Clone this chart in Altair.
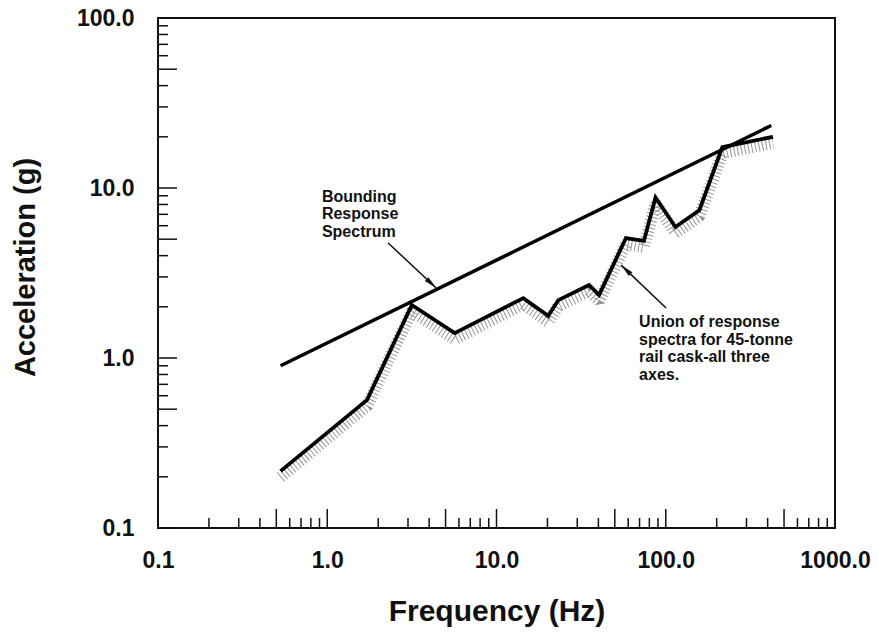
import math
import altair as alt
import pandas as pd

# ---------------- data ----------------
F_BOUND = [0.53, 420.0]
A_BOUND = [0.90, 23.3]

F_UNION = [0.53, 1.72, 3.16, 5.66, 14.4, 20.2, 23.2, 35.2, 40.4, 58.2,
           74.3, 87.0, 114.0, 158.0, 216.0, 430.0]
A_UNION = [0.216, 0.567, 2.05, 1.40, 2.25, 1.77, 2.19, 2.69, 2.35, 5.08,
           4.88, 8.8, 5.9, 7.4, 17.4, 20.0]

X_LABELS = [0.1, 1, 10, 100, 1000]
Y_LABELS = [0.1, 1, 10, 100]
MULT_SHORT = [2, 3, 4, 6, 7, 8, 9]
MULT_LONG = [1, 5]

ANNOT_TEXT = [["Bounding", "Response", "Spectrum"],
              ["Union of response", "spectra for 45-tonne", "rail cask-all three", "axes."]]
ANNOT_F = [0.93, 69.6]
ANNOT_A = [8.3, 1.52]

ARROW_TAIL_F = [2.29, 100.5]
ARROW_TAIL_A = [4.75, 1.97]
ARROW_HEAD_F = [4.40, 54.5]
ARROW_HEAD_A = [2.58, 3.52]

# ---------------- layout ----------------
W, H = 677, 510
FONT = "Liberation Sans"
XS = alt.Scale(type="log", domain=[0.1, 1000], nice=False)
YS = alt.Scale(type="log", domain=[0.1, 100], nice=False)
PPD_X, PPD_Y = W / 4.0, H / 3.0

x_axis = alt.Axis(values=X_LABELS, format=".1f", ticks=False, tickSize=0, domain=False,
                  grid=False, labelPadding=21, labelFlush=False, labelFont=FONT,
                  labelFontSize=23, labelFontWeight="bold", labelColor="#111",
                  title="Frequency (Hz)", titleFont=FONT, titleFontSize=30,
                  titleFontWeight="bold", titleColor="#111", titleY=92,
                  titleBaseline="alphabetic")
y_axis = alt.Axis(values=Y_LABELS, format=".1f", ticks=False, tickSize=0, domain=False,
                  grid=False, labelPadding=24, labelFlush=False, labelFont=FONT,
                  labelFontSize=23, labelFontWeight="bold", labelColor="#111",
                  title="Acceleration (g)", titleFont=FONT, titleFontSize=29,
                  titleFontWeight="bold", titleColor="#111", titleX=-124, titleY=249,
                  titleAngle=270, titleBaseline="alphabetic", titleAlign="center")


def X(field):
    return alt.X(field, type="quantitative", scale=XS, axis=x_axis)


def Y(field):
    return alt.Y(field, type="quantitative", scale=YS, axis=y_axis)


bound_df = pd.DataFrame({"f": F_BOUND, "a": A_BOUND})
union_df = pd.DataFrame({"f": F_UNION, "a": A_UNION})

# hatch shading below the union curve
hatch = alt.Chart(union_df).mark_line(
    color="#666", strokeWidth=12, strokeDash=[1, 2.6], yOffset=6, opacity=0.7,
    strokeJoin="bevel", strokeCap="butt"
).encode(x=X("f"), y=Y("a"))

union = alt.Chart(union_df).mark_line(color="#000", strokeWidth=3.8, strokeJoin="miter").encode(
    x=X("f"), y=Y("a"))

bound = alt.Chart(bound_df).mark_line(color="#000", strokeWidth=3.5).encode(
    x=X("f"), y=Y("a"))

# axis ticks pointing inward
xs_short = [m * 10 ** k for k in range(-1, 3) for m in MULT_SHORT]
xs_long = [m * 10 ** k for k in range(-1, 3) for m in MULT_LONG]
ys_short = [m * 10 ** k for k in range(-1, 2) for m in MULT_SHORT]
ys_long = [m * 10 ** k for k in range(-1, 2) for m in MULT_LONG]


def xticks(vals, length):
    return alt.Chart(pd.DataFrame({"v": vals})).mark_rule(color="#111", strokeWidth=1.5).encode(
        x=X("v"), y=alt.value(H), y2=alt.value(H - length))


def yticks(vals, length):
    return alt.Chart(pd.DataFrame({"v": vals})).mark_rule(color="#111", strokeWidth=1.5).encode(
        y=Y("v"), x=alt.value(0), x2=alt.value(length))


# annotations
ann_df = pd.DataFrame({"t": ANNOT_TEXT, "f": ANNOT_F, "a": ANNOT_A})
ann = alt.Chart(ann_df).mark_text(
    align="left", baseline="alphabetic", font=FONT, fontSize=16, fontWeight="bold",
    color="#111", lineHeight=17.5
).encode(x=X("f"), y=Y("a"), text="t:N")

angles = []
for tf, ta, hf, ha in zip(ARROW_TAIL_F, ARROW_TAIL_A, ARROW_HEAD_F, ARROW_HEAD_A):
    dx = (math.log10(hf) - math.log10(tf)) * PPD_X
    dy = -(math.log10(ha) - math.log10(ta)) * PPD_Y
    angles.append(math.degrees(math.atan2(dx, -dy)) % 360)

arr_df = pd.DataFrame({"tf": ARROW_TAIL_F, "ta": ARROW_TAIL_A,
                       "hf": ARROW_HEAD_F, "ha": ARROW_HEAD_A, "ang": angles})
shafts = alt.Chart(arr_df).mark_rule(color="#111", strokeWidth=1.5).encode(
    x=X("tf"), y=Y("ta"), x2="hf:Q", y2="ha:Q")
heads = alt.Chart(arr_df).mark_point(
    shape="M0,0L0.4,2L-0.4,2Z", filled=True, color="#111", size=169, opacity=1
).encode(x=X("hf"), y=Y("ha"), angle=alt.Angle("ang:Q", scale=None))

chart = alt.layer(
    hatch, union, bound,
    xticks(xs_short, 10), xticks(xs_long, 19), yticks(ys_short, 10), yticks(ys_long, 19),
    shafts, heads, ann
).properties(
    width=W, height=H,
    autosize=alt.AutoSizeParams(type="none"),
    padding={"left": 158, "top": 18, "right": 43, "bottom": 106},
    background="white"
).configure_view(stroke="#111", strokeWidth=2)

chart.save("out.html", embed_options={"renderer": "svg", "actions": False})
